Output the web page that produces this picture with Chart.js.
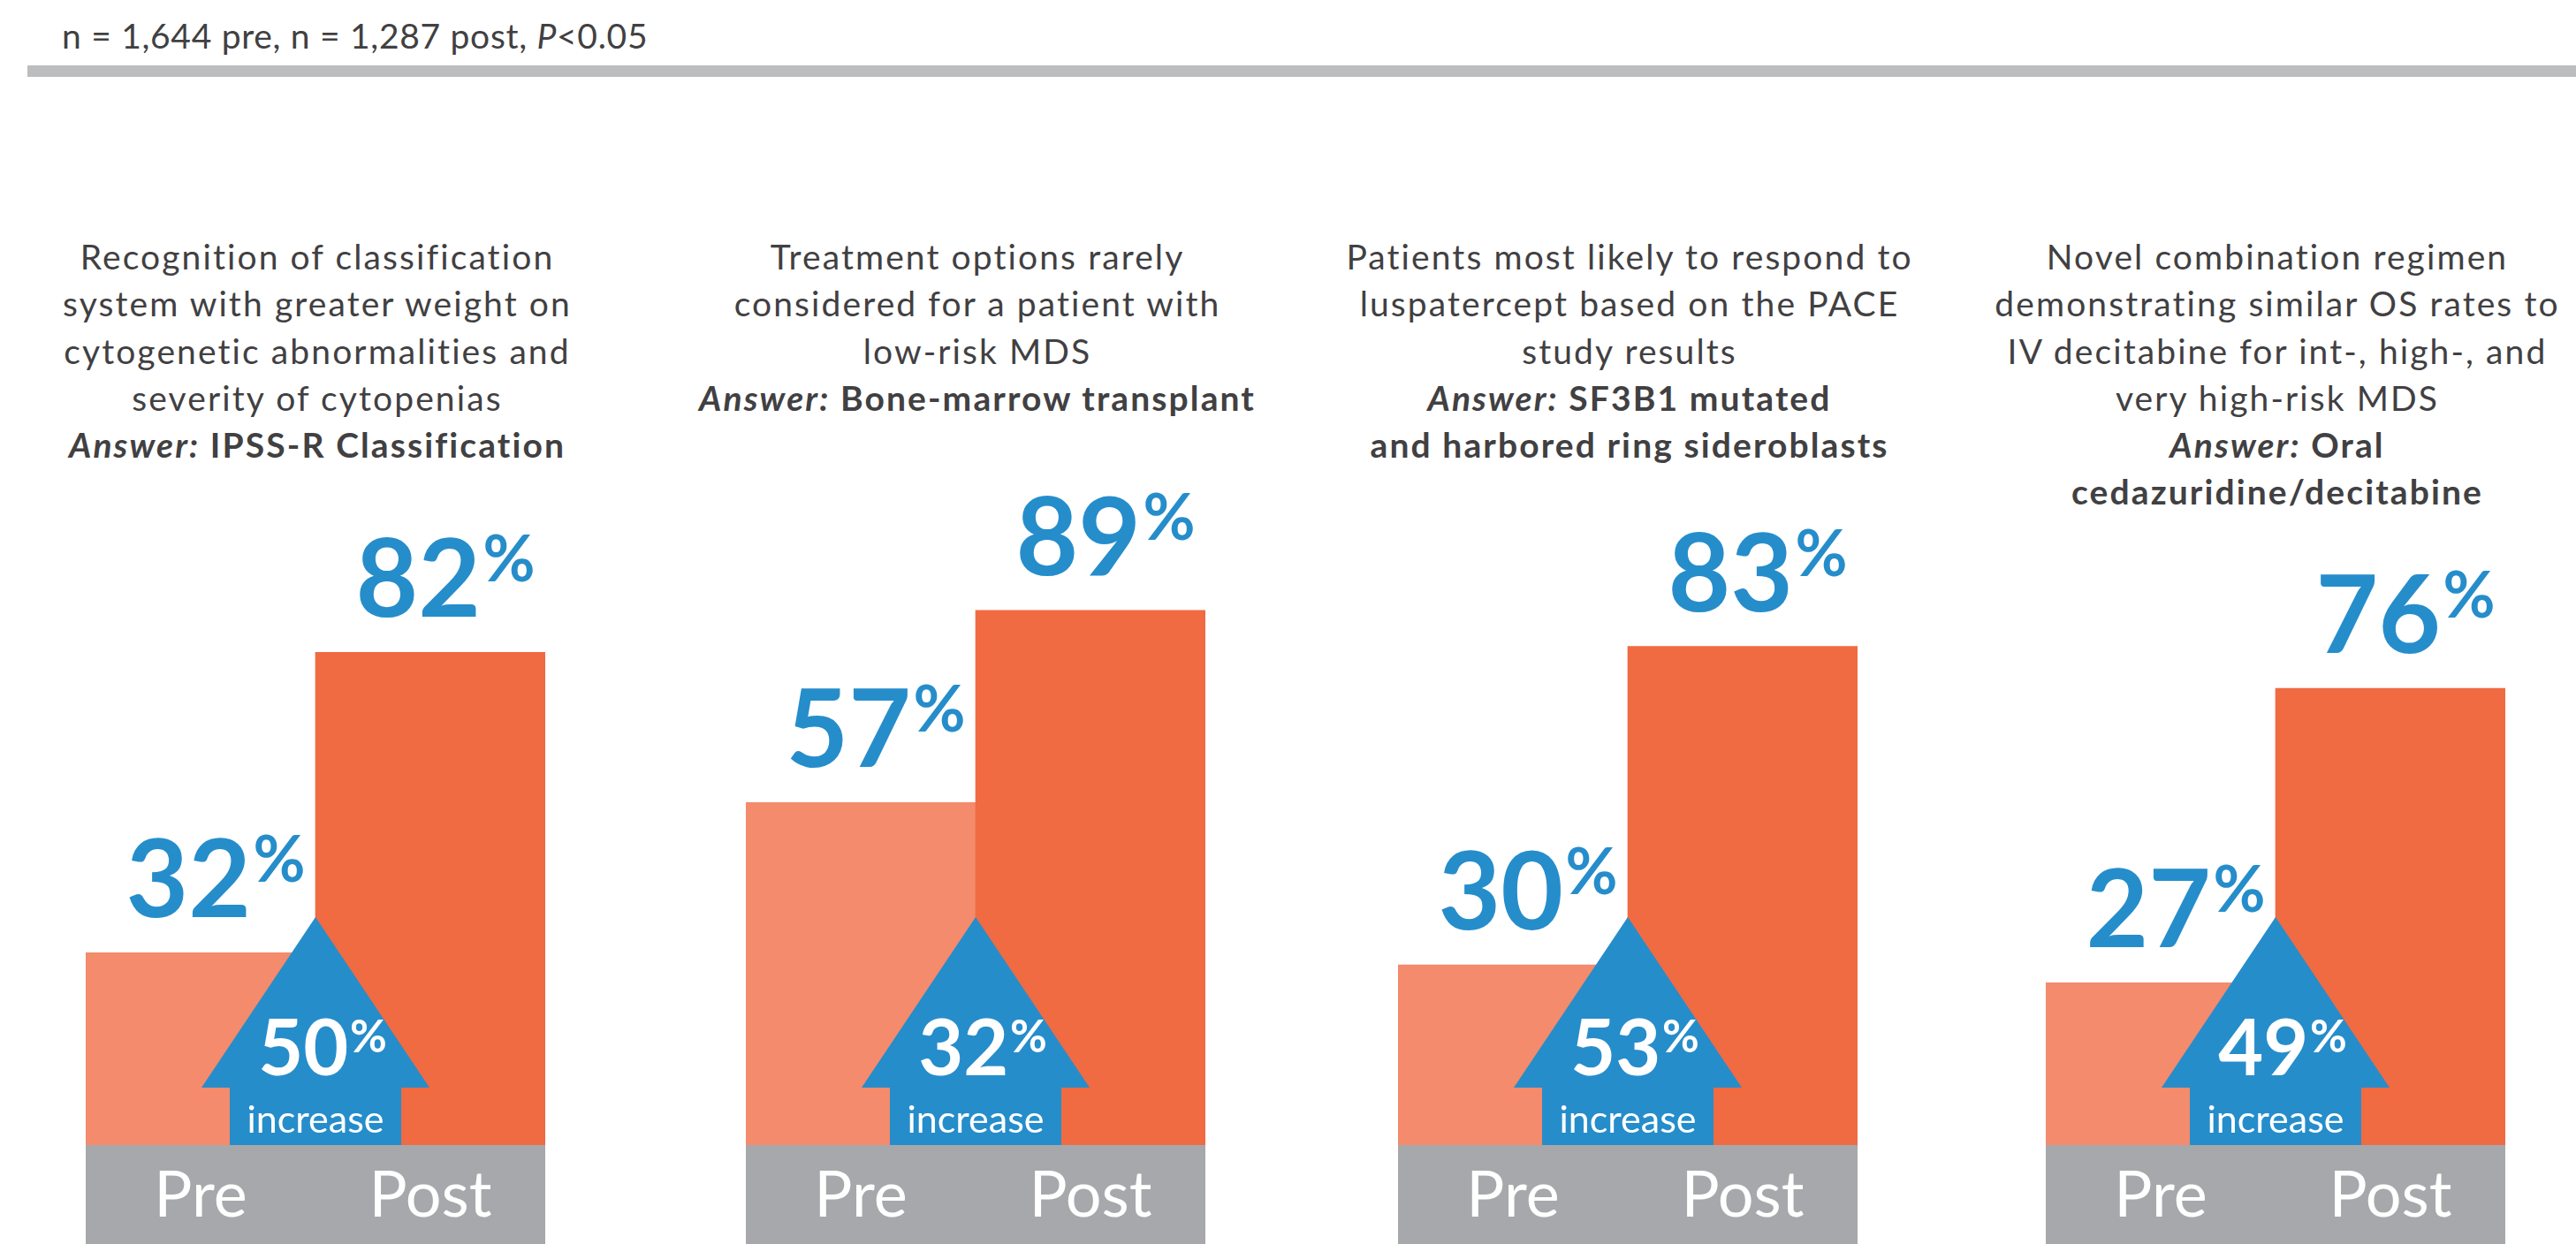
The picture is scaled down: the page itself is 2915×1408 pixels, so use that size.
<!DOCTYPE html>
<html>
<head>
<meta charset="utf-8">
<script src="https://cdn.jsdelivr.net/npm/chart.js@4.4.1/dist/chart.umd.min.js"></script>
<style>
  html, body { margin: 0; padding: 0; background: #ffffff; }
  body { width: 2915px; height: 1408px; position: relative; overflow: hidden;
         font-family: Lato, "Open Sans", sans-serif; color: #414042; }
  #header { position: absolute; left: 70px; top: 17px; font-size: 39px; line-height: 47px; white-space: nowrap; letter-spacing: 0.7px; }
  #rule { position: absolute; left: 31px; right: 0; top: 74px; height: 13px; background: #bbbdbf; }
  .title { position: absolute; top: 264px; width: 1000px; margin-left: -500px; padding-left: 2px; text-align: center;
           font-size: 39px; line-height: 53.3px; white-space: nowrap; letter-spacing: 2.1px; }
  .title .ans { font-weight: 700; }
  .title .ans i { font-style: italic; }
  .panel { position: absolute; top: 450px; width: 560px; height: 958px; }
</style>
</head>
<body>
<div id="header">n = 1,644 pre, n = 1,287 post, <i>P</i>&lt;0.05</div>
<div id="rule"></div>
<div id="titles"></div>
<div id="panels"></div>

<script>
// ---- data ----
const categories = ['Pre', 'Post'];
const preValues = [32, 57, 30, 27];
const postValues = [82, 89, 83, 76];
const increaseValues = [50, 32, 53, 49];
const questionLines = [
  ['Recognition of classification', 'system with greater weight on', 'cytogenetic abnormalities and', 'severity of cytopenias'],
  ['Treatment options rarely', 'considered for a patient with', 'low-risk MDS'],
  ['Patients most likely to respond to', 'luspatercept based on the PACE', 'study results'],
  ['Novel combination regimen', 'demonstrating similar OS rates to', 'IV decitabine for int-, high-, and', 'very high-risk MDS']
];
const answerLines = [
  ['IPSS-R Classification'],
  ['Bone-marrow transplant'],
  ['SF3B1 mutated', 'and harbored ring sideroblasts'],
  ['Oral', 'cedazuridine/decitabine']
];
const increaseWord = 'increase';
const answerPrefix = 'Answer:';

// ---- layout / style ----
const panelBarLeft = [97, 844, 1582, 2315];
const PRE_COLOR = '#f38b6c';
const POST_COLOR = '#f06a42';
const BLUE = '#268dcb';
const BAND = '#a7a8ab';
const FONT = 'Lato, "Open Sans", sans-serif';

function esc(s){ return s.replace(/&/g,'&amp;').replace(/</g,'&lt;'); }

// titles
const titlesEl = document.getElementById('titles');
const panelsEl = document.getElementById('panels');
panelBarLeft.forEach((left, i) => {
  const t = document.createElement('div');
  t.className = 'title';
  t.style.left = (left + 260) + 'px';
  let html = questionLines[i].map(esc).join('<br>');
  html += '<br><span class="ans"><i>' + answerPrefix + '</i> ' + esc(answerLines[i][0]) + '</span>';
  for (let k = 1; k < answerLines[i].length; k++) html += '<br><span class="ans">' + esc(answerLines[i][k]) + '</span>';
  t.innerHTML = html;
  titlesEl.appendChild(t);

  const p = document.createElement('div');
  p.className = 'panel';
  p.style.left = (left - 20) + 'px';
  const c = document.createElement('canvas');
  c.id = 'c' + i; c.width = 560; c.height = 958;
  p.appendChild(c);
  panelsEl.appendChild(p);
});

function drawPct(ctx, num, cx, baseline, bigSize, smallSize, pctRaise, color) {
  ctx.save();
  ctx.fillStyle = color;
  ctx.textBaseline = 'alphabetic';
  ctx.textAlign = 'left';
  ctx.font = '700 ' + bigSize + 'px ' + FONT;
  const wNum = ctx.measureText(num).width;
  ctx.font = '700 ' + smallSize + 'px ' + FONT;
  const wPct = ctx.measureText('%').width;
  const gap = bigSize * 0.02;
  const total = wNum + gap + wPct;
  const x0 = cx - total / 2;
  ctx.font = '700 ' + bigSize + 'px ' + FONT;
  ctx.fillText(num, x0, baseline);
  ctx.font = '700 ' + smallSize + 'px ' + FONT;
  ctx.fillText('%', x0 + wNum + gap, baseline - pctRaise);
  ctx.restore();
}

function panelPlugin(i) {
  return {
    id: 'panelDecor' + i,
    afterDatasetsDraw(chart) {
      const ctx = chart.ctx;
      const area = chart.chartArea;
      const xs = chart.scales.x, ys = chart.scales.y;
      const base = ys.getPixelForValue(0);
      const cx = (xs.getPixelForValue(0) + xs.getPixelForValue(1)) / 2;

      // increase arrow
      ctx.save();
      ctx.fillStyle = BLUE;
      ctx.beginPath();
      ctx.moveTo(cx, base - 258);
      ctx.lineTo(cx + 129, base - 65);
      ctx.lineTo(cx + 97, base - 65);
      ctx.lineTo(cx + 97, base);
      ctx.lineTo(cx - 97, base);
      ctx.lineTo(cx - 97, base - 65);
      ctx.lineTo(cx - 129, base - 65);
      ctx.closePath();
      ctx.fill();
      ctx.restore();
      drawPct(ctx, String(increaseValues[i]), cx + 8, base - 79, 88, 51, 26, '#ffffff');
      ctx.save();
      ctx.fillStyle = '#ffffff';
      ctx.font = '400 43px ' + FONT;
      ctx.textAlign = 'center';
      ctx.textBaseline = 'alphabetic';
      ctx.fillText(increaseWord, cx, base - 14);
      ctx.restore();

      // category band
      ctx.save();
      ctx.fillStyle = BAND;
      ctx.fillRect(area.left, base, area.right - area.left, chart.height - base);
      ctx.fillStyle = '#ffffff';
      ctx.font = '400 72px ' + FONT;
      ctx.textAlign = 'center';
      ctx.textBaseline = 'alphabetic';
      categories.forEach((c, k) => ctx.fillText(c, xs.getPixelForValue(k), base + 81));
      ctx.restore();

      // value labels
      const meta = chart.getDatasetMeta(0);
      meta.data.forEach((bar, k) => {
        const v = chart.data.datasets[0].data[k];
        drawPct(ctx, String(v), bar.x + 17, bar.y - 40, 122, 72, 40, BLUE);
      });
    }
  };
}

function build() {
  panelBarLeft.forEach((left, i) => {
    new Chart(document.getElementById('c' + i), {
      type: 'bar',
      data: {
        labels: categories,
        datasets: [{
          data: [preValues[i], postValues[i]],
          backgroundColor: [PRE_COLOR, POST_COLOR],
          borderWidth: 0,
          barPercentage: 1,
          categoryPercentage: 1
        }]
      },
      options: {
        responsive: false,
        animation: false,
        devicePixelRatio: 1,
        layout: { padding: { top: 166, bottom: 112, left: 20, right: 20 } },
        plugins: { legend: { display: false }, tooltip: { enabled: false } },
        scales: {
          x: { display: false },
          y: { display: false, min: 0, max: 100 }
        }
      },
      plugins: [panelPlugin(i)]
    });
  });
}

const fontLoads = ['700 122px Lato', '400 72px Lato', '400 43px Lato'].map(f => document.fonts ? document.fonts.load(f) : Promise.resolve());
Promise.all(fontLoads).then(build, build);
</script>
</body>
</html>
